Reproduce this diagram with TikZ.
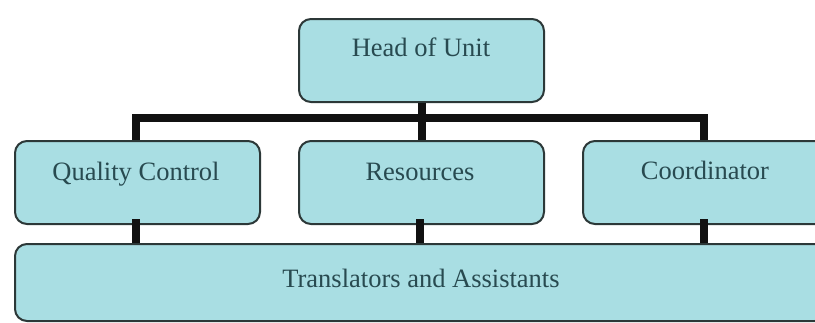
\documentclass[tikz,border=0pt]{standalone}
\usepackage{fontspec}
\setmainfont{Liberation Serif}
\definecolor{boxfill}{HTML}{A9DEE3}
\definecolor{boxline}{HTML}{2C3838}
\definecolor{txt}{HTML}{284A50}
\definecolor{conncol}{HTML}{111111}
\tikzset{
  unitbox/.style={draw=boxline, line width=2pt, fill=boxfill, rounded corners=12pt,
    minimum width=245pt, minimum height=83pt, inner sep=0pt, anchor=north west},
  lbl/.style={text=txt, font=\fontsize{26.5}{30}\selectfont, anchor=base, inner sep=0pt},
  conn/.style={draw=conncol, line width=8pt}
}
\begin{document}
\begin{tikzpicture}[x=1pt,y=1pt]
\useasboundingbox (0,0) rectangle (815,-322);
\clip (0,0) rectangle (815,-322);
\fill[white] (0,0) rectangle (815,-322);
% boxes
\node[unitbox] (head) at (298,-18) {};
\node[unitbox] (qc) at (14,-140) {};
\node[unitbox] (res) at (298,-140) {};
\node[unitbox] (co) at (582,-140) {};
\node[unitbox, minimum width=812pt, minimum height=77pt] (tr) at (14,-243) {};
% bar coordinate
\coordinate (bar) at (420,-118);
% connectors
\draw[conn] ([xshift=-2pt]qc.north) -- ([xshift=-2pt]qc.north |- bar) -- ([xshift=-2pt]co.north |- bar) -- ([xshift=-2pt]co.north);
\draw[conn] (head.south) -- (res.north);
\draw[conn] ([xshift=-2pt,yshift=6pt]qc.south) -- ([xshift=-2pt]qc.south |- tr.north);
\draw[conn] ([xshift=-2pt,yshift=6pt]res.south) -- ([xshift=-2pt]res.south |- tr.north);
\draw[conn] ([xshift=-2pt,yshift=6pt]co.south) -- ([xshift=-2pt]co.south |- tr.north);
% labels
\node[lbl] (headT) at (421,-56) {Head of Unit};
\node[lbl] (qcT) at (136,-180) {Quality Control};
\node[lbl] (resT) at (420,-180) {Resources};
\node[lbl] (coT) at (705,-179) {Coordinator};
\node[lbl] (trT) at (421,-287) {Translators and Assistants};
\end{tikzpicture}
\end{document}
